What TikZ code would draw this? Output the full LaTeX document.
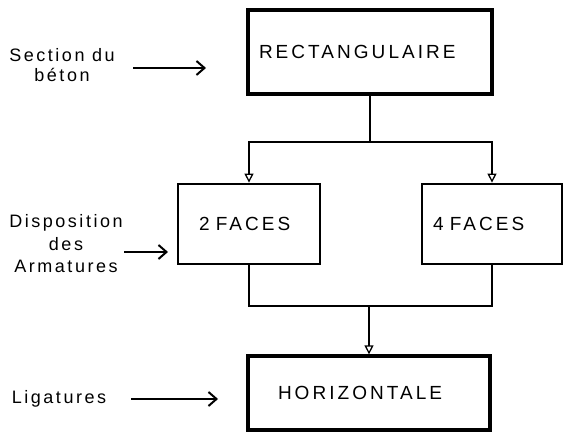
\documentclass[tikz,border=0pt]{standalone}
\usepackage{fontspec}
\setmainfont{Liberation Sans}
\newfontfamily\labfont[LetterSpace=14]{Liberation Sans}
\newfontfamily\boxfont[LetterSpace=16]{Liberation Sans}
\usetikzlibrary{arrows.meta}
\begin{document}
\begin{tikzpicture}[x=1pt,y=-1pt,
  box/.style={draw, line width=3.3pt, align=left, inner ysep=0pt, font=\boxfont\fontsize{19}{22}\selectfont},
  fbox/.style={box, line width=2.8pt},
  lab/.style={align=center, inner sep=0pt, font=\labfont\fontsize{18}{22.5}\selectfont},
  conn/.style={line width=1.3pt},
  carrow/.style={conn, -{Triangle[open,length=9pt,width=9pt]}},
  larrow/.style={line width=2pt, -{Straight Barb[length=8pt,width=14pt]}}]
\useasboundingbox (0,0) rectangle (565,435);
% boxes
\node[box, minimum height=84pt, inner xsep=11pt, text width=222pt] (rect) at (370,52) {RECTANGULAIRE};
\node[fbox, minimum height=80pt, inner xsep=21pt, text width=100pt] (f2) at (249,224) {2 FACES};
\node[fbox, minimum height=80pt, inner xsep=11pt, text width=118pt] (f4) at (492,224) {4 FACES};
\node[box, minimum height=74pt, inner xsep=30pt, text width=182pt] (hor) at (369,393) {HORIZONTALE};
% labels
\node[lab, font=\labfont\fontsize{18}{20}\selectfont] (sec) at (62,65.5) {Section du\\béton};
\node[lab] (dis) at (66,244) {Disposition\\des\\Armatures};
\node[lab] (lig) at (59,399) {Ligatures};
% label arrows
\coordinate (s1) at (133,68); \coordinate (s2) at (206,68);
\coordinate (d1) at (124,252); \coordinate (d2) at (168,252);
\coordinate (l1) at (131,399); \coordinate (l2) at (218,399);
\draw[larrow] (s1) -- (s2);
\draw[larrow] (d1) -- (d2);
\draw[larrow] (l1) -- (l2);
% connectors
\coordinate (split) at (370,142);
\draw[conn] (rect.south) -- (split);
\draw[carrow] (split) -| (f2.north);
\draw[carrow] (split) -| (f4.north);
\coordinate (merge) at (369,306);
\draw[conn] (f2.south) |- (merge);
\draw[conn] (f4.south) |- (merge);
\draw[carrow] (merge) -- (hor.north);
\end{tikzpicture}
\end{document}
